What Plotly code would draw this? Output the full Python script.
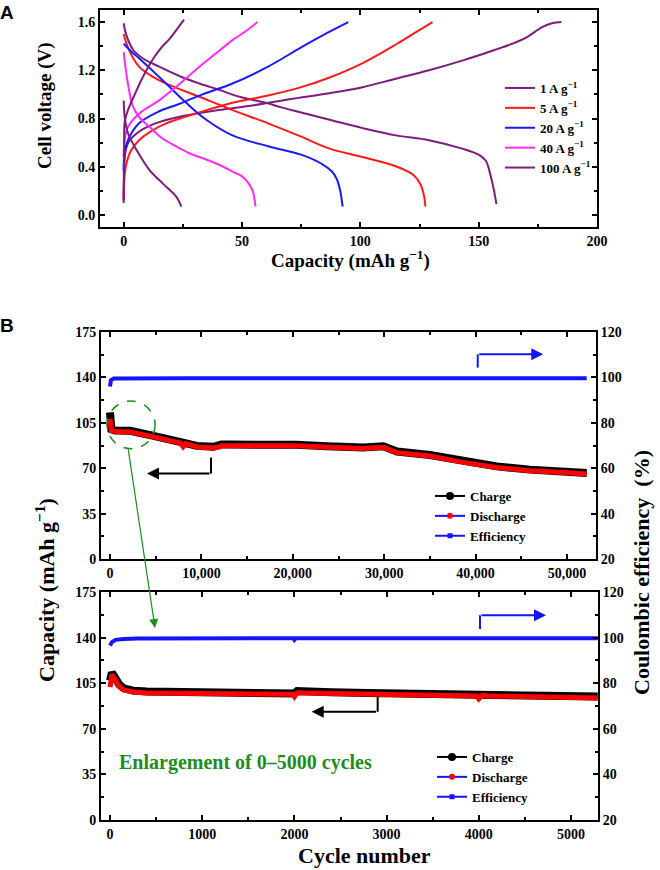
import plotly.graph_objects as go

# ---------------- Panel A: galvanostatic charge/discharge curves ----------------
cap_1_chg = [0, 0.3, 1, 3, 8, 15, 25, 40, 55, 70, 87, 101, 115, 129, 143, 157, 169, 177, 181, 185]
v_1_chg = [0.1, 0.4, 0.55, 0.63, 0.71, 0.77, 0.82, 0.87, 0.91, 0.96, 1.01, 1.06, 1.13, 1.20, 1.28, 1.37, 1.46, 1.56, 1.59, 1.6]
cap_1_dis = [0, 1, 4, 8, 15, 25, 32, 40, 49, 60, 67, 75, 87, 101, 115, 129, 143, 150, 153, 155, 156.5, 157.5]
v_1_dis = [1.59, 1.5, 1.37, 1.3, 1.23, 1.14, 1.09, 1.04, 0.98, 0.93, 0.89, 0.85, 0.79, 0.72, 0.66, 0.62, 0.55, 0.5, 0.45, 0.33, 0.2, 0.09]

cap_5_chg = [0, 0.3, 1.1, 3, 6.5, 12, 18, 32, 46, 61, 75, 87, 101, 115.5, 123, 130.5]
v_5_chg = [0.12, 0.3, 0.42, 0.53, 0.62, 0.7, 0.76, 0.85, 0.93, 0.99, 1.06, 1.14, 1.26, 1.42, 1.51, 1.6]
cap_5_dis = [0, 2, 6.5, 12, 18, 32, 46, 61, 75, 87, 101, 115.5, 122.6, 125.5, 127, 127.5]
v_5_dis = [1.5, 1.38, 1.23, 1.15, 1.09, 0.98, 0.87, 0.76, 0.65, 0.55, 0.48, 0.4, 0.33, 0.25, 0.15, 0.07]

cap_20_chg = [0, 0.3, 1.8, 6.5, 15, 22, 32, 46, 61, 75, 87, 94.9]
v_20_chg = [0.36, 0.5, 0.62, 0.76, 0.86, 0.91, 0.99, 1.09, 1.23, 1.39, 1.52, 1.6]
cap_20_dis = [0, 3, 6.5, 12, 17.9, 26.4, 34.9, 46, 61, 75, 84, 88, 90, 91.5, 92.5]
v_20_dis = [1.42, 1.36, 1.3, 1.2, 1.09, 0.93, 0.79, 0.66, 0.57, 0.5, 0.42, 0.36, 0.3, 0.2, 0.07]

cap_40_chg = [0, 0.3, 1.8, 6.5, 15, 22, 32, 39, 46, 52, 56.5]
v_40_chg = [0.48, 0.6, 0.73, 0.84, 0.95, 1.06, 1.23, 1.34, 1.45, 1.53, 1.6]
cap_40_dis = [0, 0.8, 1.8, 3.9, 7, 11, 16, 22, 28, 34.9, 41, 46, 50, 52.5, 54.5, 55.7]
v_40_dis = [1.35, 1.22, 1.09, 0.9, 0.8, 0.73, 0.64, 0.57, 0.51, 0.46, 0.41, 0.36, 0.32, 0.27, 0.2, 0.07]

cap_100_chg = [0, 0.2, 0.5, 2, 4, 8, 12.6, 16, 19.4, 22.5, 25.5]
v_100_chg = [0.12, 0.55, 0.78, 0.88, 0.97, 1.14, 1.3, 1.39, 1.46, 1.54, 1.62]
cap_100_dis = [0, 0.5, 1.8, 5.4, 11, 16.6, 22.3, 24.4]
v_100_dis = [0.95, 0.8, 0.68, 0.54, 0.37, 0.26, 0.15, 0.07]

rate_labels = ["1 A g<sup>−1</sup>", "5 A g<sup>−1</sup>", "20 A g<sup>−1</sup>",
               "40 A g<sup>−1</sup>", "100 A g<sup>−1</sup>"]
rate_colors = ["#7B1C7E", "#FF1A1A", "#1A1AFF", "#FF2BFF", "#7B1C7E"]

# ---------------- Panel B: long-term cycling ----------------
cyc_long = [0, 150, 550, 2200, 4400, 6000, 7700, 8000, 8300, 9500, 11300, 12000, 12200, 13100,
            16800, 20400, 23700, 27700, 29900, 31400, 35000, 38650, 42300, 45950, 49600, 52150]
chg_long = [113, 100, 99, 98.8, 95.5, 93, 90.2, 89.5, 89.8, 87.2, 86.5, 88.6, 88.3, 88.2,
            88.6, 88.1, 87, 85.9, 86.9, 82.8, 80.2, 75.3, 71.4, 68.9, 67.5, 66.3]
dis_long = [108, 99, 98.2, 98, 94.7, 92.2, 89.4, 86.5, 89, 86.4, 85.6, 86.5, 87.4, 87.4,
            87.8, 87.3, 86.2, 85.1, 86.1, 82, 79.4, 74.5, 70.6, 68.1, 66.7, 65.5]
eff_cyc_long = [0, 100, 400, 2000, 8000, 16000, 24000, 31000, 38700, 46600, 50600, 52150]
eff_long = [96, 98.8, 99.5, 99.6, 99.6, 99.6, 99.5, 99.5, 99.7, 99.6, 99.5, 99.6]

cyc_short = [0, 10, 20, 40, 60, 100, 150, 250, 400, 600, 1000, 1400, 1800, 1980, 2000, 2030,
             2100, 2400, 2800, 3200, 3600, 3980, 4000, 4040, 4100, 4500, 5000, 5290]
chg_short = [107, 112, 113, 111, 108, 104, 101, 99.3, 98.6, 98.4, 98.7, 98.2, 97.9, 97.7, 97.1, 99.0,
             98.6, 98, 97.4, 97, 96.6, 96.2, 95.7, 96.9, 96.3, 95.6, 95.1, 94.8]
dis_short = [102, 110, 111.5, 109.5, 106.5, 102.5, 99.8, 98.2, 97.5, 97.3, 97.6, 97.1, 96.8, 96.5, 94.6, 97.6,
             97.4, 96.9, 96.3, 95.9, 95.5, 95.1, 93, 95.6, 95.2, 94.5, 94, 93.7]
eff_cyc_short = [0, 20, 60, 150, 300, 1000, 1990, 2000, 2015, 3000, 4000, 5290]
eff_short = [96.5, 98, 99, 99.4, 99.6, 99.7, 99.7, 99.0, 99.7, 99.7, 99.6, 99.7]

SERIF = "Liberation Serif, Times New Roman, serif"
TICK_FONT = dict(family=SERIF, size=14, color="black", weight="bold")
GREEN = "#1E8C1E"
BLUE = "#1414FF"


def px_x(p):
    return p / 660


def px_y(p):
    return 1 - p / 870


def frame_axis(**kw):
    base = dict(showline=True, linewidth=2, linecolor="black", ticks="inside", ticklen=5,
                tickwidth=1.5, tickcolor="black", tickfont=TICK_FONT, showgrid=False,
                zeroline=False, automargin=False)
    base.update(kw)
    return base


fig = go.Figure()

curves = [
    (cap_1_chg, v_1_chg, cap_1_dis, v_1_dis),
    (cap_5_chg, v_5_chg, cap_5_dis, v_5_dis),
    (cap_20_chg, v_20_chg, cap_20_dis, v_20_dis),
    (cap_40_chg, v_40_chg, cap_40_dis, v_40_dis),
    (cap_100_chg, v_100_chg, cap_100_dis, v_100_dis),
]
for i, (cc, vc, cd, vd) in enumerate(curves):
    for k, (xx, yy) in enumerate([(cc, vc), (cd, vd)]):
        fig.add_trace(go.Scatter(x=xx, y=yy, mode="lines", line=dict(color=rate_colors[i], width=2, shape="spline"),
                                 name=rate_labels[i], legendgroup=rate_labels[i], showlegend=(k == 0),
                                 legend="legend", xaxis="x", yaxis="y"))

# cycling traces (top: 0-52000, bottom: 0-5300)
for xa, ya, ye, cyc, chg, dis, ecyc, eff in [
    ("x2", "y2", "y3", cyc_long, chg_long, dis_long, eff_cyc_long, eff_long),
    ("x3", "y4", "y5", cyc_short, chg_short, dis_short, eff_cyc_short, eff_short),
]:
    fig.add_trace(go.Scatter(x=ecyc, y=eff, mode="lines", line=dict(color=BLUE, width=4),
                             showlegend=False, xaxis=xa, yaxis=ye))
    fig.add_trace(go.Scatter(x=cyc, y=chg, mode="lines", line=dict(color="black", width=8),
                             showlegend=False, xaxis=xa, yaxis=ya))
    fig.add_trace(go.Scatter(x=cyc, y=dis, mode="lines", line=dict(color="#FF0000", width=5),
                             showlegend=False, xaxis=xa, yaxis=ya))

# legend-only entries for panel B
for lg, xa, ya in [("legend2", "x2", "y2"), ("legend3", "x3", "y4")]:
    fig.add_trace(go.Scatter(x=[None], y=[None], mode="lines+markers", name="Charge",
                             line=dict(color="black", width=2), marker=dict(color="black", size=8),
                             legend=lg, xaxis=xa, yaxis=ya))
    fig.add_trace(go.Scatter(x=[None], y=[None], mode="lines+markers", name="Discharge",
                             line=dict(color=BLUE, width=2), marker=dict(color="#FF0000", size=6),
                             legend=lg, xaxis=xa, yaxis=ya))
    fig.add_trace(go.Scatter(x=[None], y=[None], mode="lines+markers", name="Efficiency",
                             line=dict(color=BLUE, width=2), marker=dict(color=BLUE, size=5, symbol="square"),
                             legend=lg, xaxis=xa, yaxis=ya))

legend_common = dict(font=dict(family=SERIF, size=13, color="black", weight="bold"),
                     bgcolor="rgba(0,0,0,0)", itemwidth=30, tracegroupgap=0,
                     xanchor="left", yanchor="top")

fig.update_layout(
    width=660, height=870,
    margin=dict(l=0, r=0, t=0, b=0, autoexpand=False),
    font=dict(family=SERIF, color="black", weight="bold"),
    paper_bgcolor="white", plot_bgcolor="white",
    showlegend=True,
    legend=dict(x=px_x(500), y=px_y(73), **legend_common),
    legend2=dict(x=px_x(430), y=px_y(481), **legend_common),
    legend3=dict(x=px_x(432), y=px_y(742), **legend_common),
    xaxis=frame_axis(domain=[px_x(100), px_x(597)], range=[-10, 200], dtick=50, mirror="ticks",
                     anchor="y", minor=dict(ticks="inside", ticklen=3, dtick=25, tickcolor="black")),
    yaxis=frame_axis(domain=[px_y(227), px_y(10)], range=[-0.1, 1.7], dtick=0.4, tick0=0,
                     tickformat=".1f", mirror="ticks", anchor="x",
                     minor=dict(ticks="inside", ticklen=3, dtick=0.2, tickcolor="black")),
    xaxis2=frame_axis(domain=[px_x(101), px_x(596)], range=[-985, 53170], dtick=10000, tickformat=",d",
                      mirror="ticks", anchor="y2",
                      minor=dict(ticks="inside", ticklen=3, dtick=5000, tickcolor="black")),
    yaxis2=frame_axis(domain=[px_y(559), px_y(332)], range=[0, 175], dtick=35, anchor="x2",
                      minor=dict(ticks="inside", ticklen=3, dtick=17.5, tickcolor="black")),
    yaxis3=frame_axis(range=[20, 120], dtick=20, overlaying="y2", side="right", anchor="x2",
                      minor=dict(ticks="inside", ticklen=3, dtick=10, tickcolor="black")),
    xaxis3=frame_axis(domain=[px_x(101), px_x(598)], range=[-98, 5293], dtick=1000, tickformat="d",
                      mirror="ticks", anchor="y4",
                      minor=dict(ticks="inside", ticklen=3, dtick=500, tickcolor="black")),
    yaxis4=frame_axis(domain=[px_y(820), px_y(592)], range=[0, 175], dtick=35, anchor="x3",
                      minor=dict(ticks="inside", ticklen=3, dtick=17.5, tickcolor="black")),
    yaxis5=frame_axis(range=[20, 120], dtick=20, overlaying="y4", side="right", anchor="x3",
                      minor=dict(ticks="inside", ticklen=3, dtick=10, tickcolor="black")),
)

# axis titles and labels
title_font = dict(family=SERIF, color="black", weight="bold")
texts = [
    ("Cell voltage (V)", 45, 106, -90, 19),
    ("Capacity (mAh g<sup>−1</sup>)", 350, 259, 0, 19),
    ("Capacity (mAh g<sup>−1</sup>)", 45, 590, -90, 22),
    ("Coulombic efficiency  (%)", 641, 573, -90, 22),
    ("Cycle number", 364, 855, 0, 22),
]
for t, x, y, ang, sz in texts:
    fig.add_annotation(text=t, x=px_x(x), y=px_y(y), xref="paper", yref="paper", showarrow=False,
                       textangle=ang, xanchor="center", yanchor="middle", font=dict(size=sz, **title_font))

for t, y in [("A", 12), ("B", 325)]:
    fig.add_annotation(text=t, x=px_x(7), y=px_y(y), xref="paper", yref="paper", showarrow=False,
                       xanchor="center", yanchor="middle",
                       font=dict(family="Liberation Sans", size=19, color="black", weight="bold"))

fig.add_annotation(text="Enlargement of 0–5000 cycles", x=px_x(117), y=px_y(762), xref="paper", yref="paper",
                   showarrow=False, xanchor="left", yanchor="middle",
                   font=dict(family=SERIF, size=20, color=GREEN, weight="bold"))

# bracket arrows: (xref, yref, corner x, start y, corner y, tip x, color)
brackets = [
    ("x2", "y2", 11050, 78.2, 65.9, 4050, "black"),
    ("x2", "y3", 40230, 104.3, 110.2, 47400, BLUE),
    ("x3", "y4", 2903, 94.6, 83.1, 2187, "black"),
    ("x3", "y5", 4013, 103.8, 109.8, 4729, BLUE),
]
for xr, yr, cx, y0, y1, tip, col in brackets:
    fig.add_shape(type="line", xref=xr, yref=yr, x0=cx, x1=cx, y0=y0, y1=y1, line=dict(color=col, width=2))
    fig.add_annotation(x=tip, y=y1, xref=xr, yref=yr, ax=cx, ay=y1, axref=xr, ayref=yr, text="",
                       showarrow=True, arrowhead=2, arrowsize=1.2, arrowwidth=2, arrowcolor=col, standoff=0)

# dashed green circle and pointer to the enlargement
fig.add_shape(type="circle", xref="x2", yref="y2", x0=-330, x1=4930, y0=85, y1=121.8,
              line=dict(color=GREEN, width=1.5, dash="dash"))
fig.add_annotation(x=488, y=147.4, xref="x3", yref="y4", ax=-27, ay=-180, text="", showarrow=True,
                   arrowhead=2, arrowsize=1.5, arrowwidth=1.2, arrowcolor=GREEN, standoff=0)

# the page's default 8px body margin would shift the figure
fig.write_html("out.html", config={"displayModeBar": False},
               post_script="document.body.style.margin='0px';")
